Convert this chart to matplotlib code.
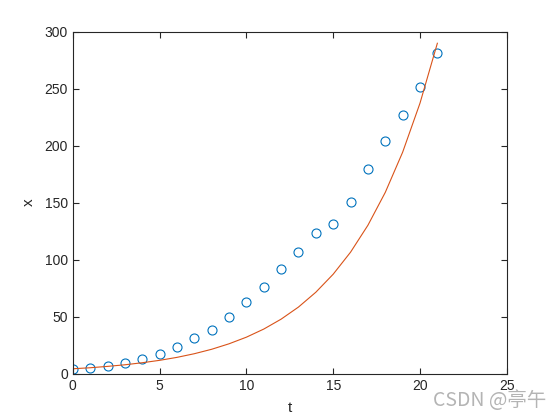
import numpy as np
import matplotlib
matplotlib.use('Agg')
import matplotlib.pyplot as plt

# observed data (circles)
t = np.arange(0, 22)
x_obs = [3.9, 5.3, 7.2, 9.6, 12.9, 17.1, 23.2, 31.4, 38.6, 50.2, 62.9,
         76.0, 92.0, 106.5, 123.2, 131.7, 150.7, 179.3, 204.0, 226.5,
         251.4, 281.4]

# fitted curve, values
t_fit = np.arange(0, 22)
x_fit = [4.4, 5.3, 6.5, 7.9, 9.7, 11.8, 14.4, 17.6, 21.5, 26.3, 32.1,
         39.2, 47.9, 58.5, 71.5, 87.3, 106.6, 130.2, 159.0, 194.2,
         237.2, 289.7]

plt.rcParams['font.family'] = ['Liberation Sans', 'DejaVu Sans']

fig = plt.figure(figsize=(5.6, 4.2), dpi=100)
ax = fig.add_axes([0.13, 0.11, 0.775, 0.815])

ax.plot(t, x_obs, 'o', markerfacecolor='none', markeredgecolor='#0072BD',
        markersize=6.5, markeredgewidth=0.8)
ax.plot(t_fit, x_fit, '-', color='#D95319', linewidth=0.8)

ax.set_xlim(0, 25)
ax.set_ylim(0, 300)
ax.set_xticks([0, 5, 10, 15, 20, 25])
ax.set_yticks([0, 50, 100, 150, 200, 250, 300])

axc = '#262626'
for s in ax.spines.values():
    s.set_color(axc)
    s.set_linewidth(0.8)
ax.tick_params(direction='in', length=4, width=0.8, color=axc,
               labelcolor=axc, labelsize=10, top=True, right=True)

ax.set_xlabel('t', fontsize=11, color=axc, labelpad=6)
ax.set_ylabel('x', fontsize=11, color=axc, labelpad=6)

# watermark
fig.text(0.975, 0.022, 'CSDN @亭午', ha='right', va='bottom', fontsize=14,
         color='#b4b4b4', family=['Noto Sans CJK SC', 'DejaVu Sans'])

fig.savefig('out.png', dpi=100)
